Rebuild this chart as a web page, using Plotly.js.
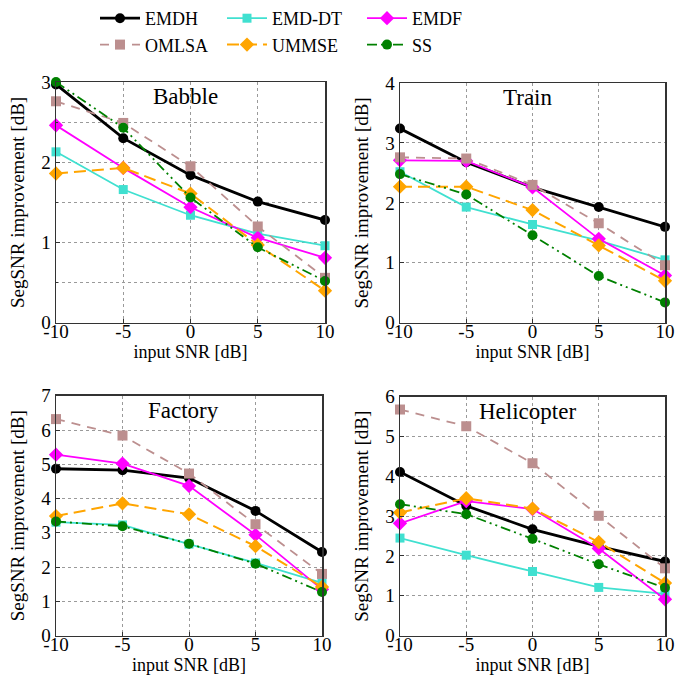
<!DOCTYPE html>
<html>
<head>
<meta charset="utf-8">
<script src="https://cdn.plot.ly/plotly-3.0.1.min.js"></script>
<style>html,body{margin:0;padding:0;background:#fff;}#chart{width:675px;height:678px;}</style>
</head>
<body>
<div id="chart"></div>
<script>
const snr = [-10, -5, 0, 5, 10];
const xTickLabels = ['-10', '-5', '0', '5', '10'];
const methods = ['EMDH', 'EMD-DT', 'EMDF', 'OMLSA', 'UMMSE', 'SS'];
const panels = ['Babble', 'Train', 'Factory', 'Helicopter'];

// Babble
const babble_EMDH  = [2.97, 2.30, 1.84, 1.51, 1.28];
const babble_EMDDT = [2.13, 1.66, 1.34, 1.11, 0.96];
const babble_EMDF  = [2.46, 1.93, 1.44, 1.06, 0.81];
const babble_OMLSA = [2.76, 2.49, 1.95, 1.20, 0.56];
const babble_UMMSE = [1.86, 1.93, 1.61, 0.97, 0.40];
const babble_SS    = [3.00, 2.43, 1.56, 0.94, 0.52];
// Train
const train_EMDH  = [3.24, 2.68, 2.26, 1.93, 1.60];
const train_EMDDT = [2.52, 1.93, 1.64, 1.37, 1.05];
const train_EMDF  = [2.71, 2.70, 2.26, 1.40, 0.79];
const train_OMLSA = [2.76, 2.74, 2.30, 1.66, 0.96];
const train_UMMSE = [2.27, 2.27, 1.88, 1.29, 0.70];
const train_SS    = [2.48, 2.14, 1.46, 0.78, 0.34];
// Factory
const factory_EMDH  = [4.87, 4.83, 4.60, 3.64, 2.44];
const factory_EMDDT = [3.31, 3.23, 2.67, 2.12, 1.54];
const factory_EMDF  = [5.28, 5.02, 4.37, 2.94, 1.35];
const factory_OMLSA = [6.32, 5.84, 4.73, 3.25, 1.80];
const factory_UMMSE = [3.49, 3.86, 3.54, 2.61, 1.42];
const factory_SS    = [3.33, 3.19, 2.68, 2.10, 1.27];
// Helicopter
const heli_EMDH  = [4.11, 3.26, 2.67, 2.24, 1.86];
const heli_EMDDT = [2.45, 2.02, 1.61, 1.21, 1.05];
const heli_EMDF  = [2.82, 3.38, 3.18, 2.19, 0.91];
const heli_OMLSA = [5.68, 5.26, 4.33, 3.01, 1.69];
const heli_UMMSE = [3.09, 3.45, 3.19, 2.35, 1.32];
const heli_SS    = [3.30, 3.05, 2.43, 1.79, 1.20];

const panelData = [
  [babble_EMDH, babble_EMDDT, babble_EMDF, babble_OMLSA, babble_UMMSE, babble_SS],
  [train_EMDH, train_EMDDT, train_EMDF, train_OMLSA, train_UMMSE, train_SS],
  [factory_EMDH, factory_EMDDT, factory_EMDF, factory_OMLSA, factory_UMMSE, factory_SS],
  [heli_EMDH, heli_EMDDT, heli_EMDF, heli_OMLSA, heli_UMMSE, heli_SS]
];

const styles = [
  {color: '#000000', width: 2.8, dash: 'solid', symbol: 'circle', size: 10, legend: 'legend'},
  {color: '#40e0d0', width: 1.8, dash: 'solid', symbol: 'square', size: 9, legend: 'legend2'},
  {color: '#ff00ff', width: 1.8, dash: 'solid', symbol: 'diamond', size: 11, legend: 'legend3'},
  {color: '#bc8f8f', width: 1.8, dash: '9px,7px', symbol: 'square', size: 10, legend: 'legend'},
  {color: '#ffa500', width: 2, dash: '12px,6px', symbol: 'diamond', size: 11, legend: 'legend2'},
  {color: '#008000', width: 1.8, dash: '10px,4px,2px,4px,2px,4px', symbol: 'circle', size: 10, legend: 'legend3'}
];

const traces = [];
panelData.forEach((series, p) => {
  const ax = p === 0 ? '' : String(p + 1);
  series.forEach((vals, m) => {
    const s = styles[m];
    traces.push({
      type: 'scatter', mode: 'lines+markers',
      x: snr, y: vals, name: methods[m],
      xaxis: 'x' + ax, yaxis: 'y' + ax,
      legend: s.legend, legendgroup: methods[m],
      showlegend: p === 0,
      cliponaxis: false,
      line: {color: s.color, width: s.width, dash: s.dash},
      marker: {color: s.color, symbol: s.symbol, size: s.size}
    });
  });
});

const FAM = 'Liberation Serif';
const font = {family: FAM, color: '#000'};
function xAxis(domain, anchor) {
  return {
    domain: domain, anchor: anchor, range: [-10, 10],
    tickvals: snr, ticktext: xTickLabels,
    showgrid: true, gridcolor: '#9a9a9a', griddash: 'dot', gridwidth: 1,
    zeroline: false, showline: true, linecolor: '#333', linewidth: 1.5, mirror: true,
    ticks: 'inside', ticklen: 4, tickcolor: '#333',
    ticklabelstandoff: -9,
    tickfont: {family: FAM, size: 19, color: '#000'},
    title: {text: 'input SNR [dB]', font: {family: FAM, size: 18, color: '#000'}, standoff: 1},
    automargin: false, fixedrange: true
  };
}
function yAxis(domain, anchor, maxV, minorStep) {
  const a = {
    domain: domain, anchor: anchor, range: [0, maxV], dtick: 1, tick0: 0,
    showgrid: true, gridcolor: '#9a9a9a', griddash: 'dot', gridwidth: 1,
    zeroline: false, showline: true, linecolor: '#333', linewidth: 1.5, mirror: true,
    ticks: 'inside', ticklen: 4, tickcolor: '#333',
    tickfont: {family: FAM, size: 19, color: '#000'},
    title: {text: 'SegSNR improvement [dB]', font: {family: FAM, size: 19, color: '#000'}, standoff: 11},
    automargin: false, fixedrange: true
  };
  if (minorStep) a.minor = {dtick: minorStep, showgrid: true, gridcolor: '#9a9a9a', griddash: 'dot', ticks: 'inside', ticklen: 2};
  return a;
}

const W = 675, H = 678;
const px = (a, b) => [a / W, b / W];
const py = (top, bottom) => [1 - bottom / H, 1 - top / H];

const legendBase = {
  orientation: 'v', yanchor: 'top', y: 1.014, xanchor: 'left',
  font: {family: FAM, size: 18, color: '#000'},
  bgcolor: 'rgba(0,0,0,0)', tracegroupgap: 0, itemwidth: 40
};

const annFont = {family: FAM, size: 23, color: '#000'};
const layout = {
  width: W, height: H,
  margin: {l: 0, r: 0, t: 0, b: 0},
  paper_bgcolor: '#fff', plot_bgcolor: '#fff',
  font: font,
  xaxis: xAxis(px(56, 325), 'y'),
  yaxis: yAxis(py(74, 318), 'x', 3, 0.5),
  xaxis2: xAxis(px(400, 665), 'y2'),
  yaxis2: yAxis(py(75, 318), 'x2', 4),
  xaxis3: xAxis(px(56, 322), 'y3'),
  yaxis3: yAxis(py(392, 635), 'x3', 7),
  xaxis4: xAxis(px(400, 665), 'y4'),
  yaxis4: yAxis(py(393, 635), 'x4', 6),
  legend: Object.assign({}, legendBase, {x: 95 / W}),
  legend2: Object.assign({}, legendBase, {x: 222 / W}),
  legend3: Object.assign({}, legendBase, {x: 362 / W}),
  annotations: [
    {text: panels[0], xref: 'x domain', yref: 'y domain', x: 0.48, y: 0.94, yanchor: 'middle', showarrow: false, font: annFont},
    {text: panels[1], xref: 'x2 domain', yref: 'y2 domain', x: 0.483, y: 0.94, yanchor: 'middle', showarrow: false, font: annFont},
    {text: panels[2], xref: 'x3 domain', yref: 'y3 domain', x: 0.48, y: 0.94, yanchor: 'middle', showarrow: false, font: annFont},
    {text: panels[3], xref: 'x4 domain', yref: 'y4 domain', x: 0.483, y: 0.94, yanchor: 'middle', showarrow: false, font: annFont}
  ],
  showlegend: true
};

Plotly.newPlot('chart', traces, layout, {displayModeBar: false, staticPlot: true});
</script>
</body>
</html>
